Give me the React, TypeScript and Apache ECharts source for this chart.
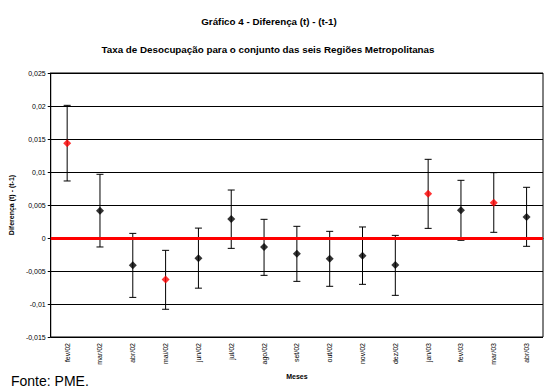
import React, { useEffect, useRef } from "react";
import * as echarts from "echarts";

const categories = ["fev/02", "mar/02", "abr/02", "mai/02", "jun/02", "jul/02", "ago/02", "set/02", "out/02", "nov/02", "dez/02", "jan/03", "fev/03", "mar/03", "abr/03"];
const pointValues = [0.01435, 0.00414, -0.00414, -0.0063, -0.00308, 0.00288, -0.00136, -0.00237, -0.00313, -0.00268, -0.00409, 0.00672, 0.00419, 0.00535, 0.00318];
const upperValues = [0.0201, 0.00965, 0.0007, -0.00187, 0.0015, 0.00727, 0.00283, 0.00177, 0.00101, 0.00167, 0.0004, 0.01192, 0.00874, 0.0099, 0.00768];
const lowerValues = [0.00864, -0.00136, -0.009, -0.0108, -0.0076, -0.00157, -0.00566, -0.00657, -0.00732, -0.00702, -0.00869, 0.00146, -0.00035, 0.00086, -0.00126];
const highlighted = [true, false, false, true, false, false, false, false, false, false, false, true, false, true, false];

export default function App() {
  const ref = useRef<HTMLDivElement>(null);
  useEffect(() => {
    if (!ref.current) return;
    const chart = echarts.init(ref.current, null, { renderer: "svg" });
    const font = "Liberation Sans, Arial, sans-serif";
    chart.setOption({
      animation: false,
      textStyle: { fontFamily: font },
      title: [
        { text: "Gráfico 4 - Diferença (t) - (t-1)", left: 264, top: 11, textAlign: "center", textStyle: { fontSize: 9.8, fontWeight: "bold", color: "#000", fontFamily: font } },
        { text: "Taxa de Desocupação para o conjunto das seis Regiões Metropolitanas", left: 263, top: 39, textAlign: "center", textStyle: { fontSize: 9.8, fontWeight: "bold", color: "#000", fontFamily: font } },
        { text: "Fonte: PME.", left: 6, top: 369, textStyle: { fontSize: 14, fontWeight: "normal", color: "#000", fontFamily: font } },
      ],
      grid: { left: 44, right: 3, top: 73, bottom: 54, show: true, borderColor: "#000", borderWidth: 1 },
      xAxis: {
        type: "category",
        data: categories,
        boundaryGap: true,
        name: "Meses",
        nameLocation: "middle",
        nameGap: 36,
        nameTextStyle: { fontSize: 7, fontWeight: "bold", color: "#000" },
        axisLine: { lineStyle: { color: "#000", width: 1 } },
        axisTick: { show: false },
        axisLabel: { rotate: 90, fontSize: 7, color: "#000", margin: 6, interval: 0 },
        splitLine: { show: false },
      },
      yAxis: {
        type: "value",
        min: -0.015,
        max: 0.025,
        interval: 0.005,
        name: "Diferença (t) - (t-1)",
        nameLocation: "middle",
        nameGap: 28,
        nameTextStyle: { fontSize: 7, fontWeight: "bold", color: "#000" },
        axisLine: { show: true, lineStyle: { color: "#000", width: 1 } },
        axisTick: { show: true, length: 3, lineStyle: { color: "#000" } },
        axisLabel: {
          fontSize: 7,
          color: "#000",
          margin: 5,
          formatter: (v: number) => String(parseFloat(v.toFixed(3))).replace(".", ","),
        },
        splitLine: { show: true, lineStyle: { color: "#000", width: 1 } },
      },
      series: [
        {
          type: "custom",
          data: categories.map((_, i) => [i, lowerValues[i], upperValues[i]]),
          renderItem: (params: any, api: any) => {
            const x = api.value(0);
            const lo = api.coord([x, api.value(1)]);
            const hi = api.coord([x, api.value(2)]);
            const cap = 3.5;
            const st = { stroke: "#000", lineWidth: 1 };
            return {
              type: "group",
              children: [
                { type: "line", shape: { x1: lo[0], y1: lo[1], x2: hi[0], y2: hi[1] }, style: st },
                { type: "line", shape: { x1: hi[0] - cap, y1: hi[1], x2: hi[0] + cap, y2: hi[1] }, style: st },
                { type: "line", shape: { x1: lo[0] - cap, y1: lo[1], x2: lo[0] + cap, y2: lo[1] }, style: st },
              ],
            };
          },
          z: 3,
          markLine: {
            silent: true,
            symbol: "none",
            label: { show: false },
            lineStyle: { color: "#ff0000", width: 3, type: "solid" },
            data: [{ yAxis: 0 }],
          },
        },
        {
          type: "scatter",
          symbol: "diamond",
          symbolSize: 8,
          z: 4,
          data: pointValues.map((v, i) => ({ value: [i, v], itemStyle: { color: highlighted[i] ? "#ff0000" : "#000" } })),
        },
      ],
    });
    return () => chart.dispose();
  }, []);
  return <div ref={ref} style={{ width: 546, height: 391, position: "absolute", left: 0, top: 0 }} />;
}
